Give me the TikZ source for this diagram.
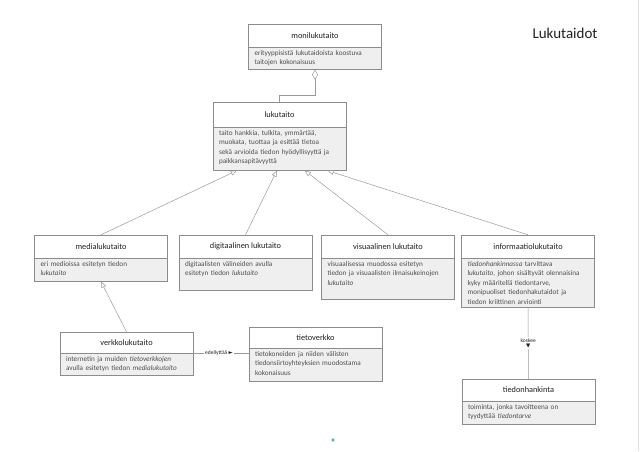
\documentclass[tikz,border=0pt]{standalone}
\usepackage{fontspec}
\setmainfont{Carlito}
\newfontfamily\symfont{DejaVu Sans}
\usetikzlibrary{positioning,arrows.meta,calc}
\definecolor{boxline}{HTML}{8C8C8C}
\definecolor{bodyfill}{HTML}{EFEFEF}
\definecolor{headtext}{HTML}{202020}
\definecolor{bodytext}{HTML}{505050}
\definecolor{linkgray}{HTML}{9A9A9A}
\definecolor{dotteal}{HTML}{5DBBA9}
\begin{document}
\begin{tikzpicture}[x=1pt, y=-1pt,
  head/.style={draw=boxline, fill=white, minimum width=133pt, minimum height=23pt, inner sep=0pt, text=headtext, font=\fontsize{8.3}{9.5}\selectfont},
  body/.style={draw=boxline, fill=bodyfill, text width=121pt, inner xsep=6pt, inner ysep=3pt, align=left, text=bodytext, font=\fontsize{7.2}{9.5}\selectfont, text depth=#1},
  link/.style={draw=linkgray, line width=0.5pt},
  gen/.style={link, -{Triangle[open, length=6pt, width=5pt]}},
  agg/.style={link, -{Diamond[open, length=10pt, width=6pt]}},
  lbl/.style={fill=white, inner sep=1pt, text=headtext, font=\fontsize{5.5}{6}\selectfont}]
	\useasboundingbox (0,0) rectangle (640,451);
	\draw[gray!25] (638.5,0) -- (638.5,451);
	
	% 1. otsikko
	\node[text=headtext, font=\fontsize{15}{18}\selectfont] (title) at (565,33) {Lukutaidot};
	
	% 2. luokat (otsikko + kuvaus)
	\node[head] (mh) at (315,35.5) {monilukutaito};
	\node[body=11pt, below=0pt of mh] (mb) {erityyppisistä lukutaidoista koostuva\\taitojen kokonaisuus};
	
	\node[head, minimum height=25pt] (lh) at (279.5,114.5) {lukutaito};
	\node[body=32pt, below=0pt of lh] (lb) {taito hankkia, tulkita, ymmärtää,\\muokata, tuottaa ja esittää tietoa\\sekä arvioida tiedon hyödyllisyyttä ja\\paikkansapitävyyttä};
	
	\node[head] (mdh) at (101,246.5) {medialukutaito};
	\node[body=12pt, below=0pt of mdh] (mdb) {eri medioissa esitetyn tiedon\\\textit{lukutaito}};
	
	\node[head] (dh) at (245.5,246.5) {digitaalinen lukutaito};
	\node[body=21pt, below=0pt of dh] (db) {digitaalisten välineiden avulla\\esitetyn tiedon \textit{lukutaito}};
	
	\node[head] (vsh) at (388,246.5) {visuaalinen lukutaito};
	\node[body=30pt, below=0pt of vsh] (vsb) {visuaalisessa muodossa esitetyn\\tiedon ja visuaalisten ilmaisukeinojen\\\textit{lukutaito}};
	
	\node[head] (ih) at (528,246.5) {informaatiolukutaito};
	\node[body=38pt, below=0pt of ih] (ib) {\textit{tiedonhankinnassa} tarvittava\\\textit{lukutaito}, johon sisältyvät olennaisina\\kyky määritellä tiedontarve,\\monipuoliset tiedonhakutaidot ja\\tiedon kriittinen arviointi};
	
	\node[head, minimum height=21pt] (vh) at (126.5,342.5) {verkkolukutaito};
	\node[body=11pt, below=0pt of vh] (vb) {internetin ja muiden \textit{tietoverkkojen}\\avulla esitetyn tiedon \textit{medialukutaito}};
	
	\node[head, minimum height=21pt] (tvh) at (315.5,337.5) {tietoverkko};
	\node[body=22pt, below=0pt of tvh] (tvb) {tietokoneiden ja niiden välisten\\tiedonsiirtoyhteyksien muodostama\\kokonaisuus};
	
	\node[head, minimum height=22pt] (hh) at (528.5,390) {tiedonhankinta};
	\node[body=12pt, below=0pt of hh] (hb) {toiminta, jonka tavoitteena on\\tyydyttää \textit{tiedontarve}};
	
	% 3. yhteydet
	\draw[agg] (lh.north) -- ++(0,-7) -| (mb.south);
	\draw[gen] (mdh.north) -- ($(lb.south west)!0.18!(lb.south east)$);
	\draw[gen] (dh.north) -- ($(lb.south west)!0.48!(lb.south east)$);
	\draw[gen] (vsh.north) -- ($(lb.south west)!0.69!(lb.south east)$);
	\draw[gen] (ih.north) -- ($(lb.south west)!0.86!(lb.south east)$);
	\draw[gen] (vh.north) -- (mdb.south);
	\draw[link] (vh.south east) -- (vh.south east -| tvh.west) node[lbl, midway, xshift=-2pt] {edellyttää {\symfont ►}};
	\draw[link] (ib.south) -- (hh.north) node[lbl, midway, align=center] {koskee\\[-1pt]{\symfont ▼}};
	
	% 4. piste
	\fill[dotteal] (333,440) circle (1.8pt);
\end{tikzpicture}
\end{document}
